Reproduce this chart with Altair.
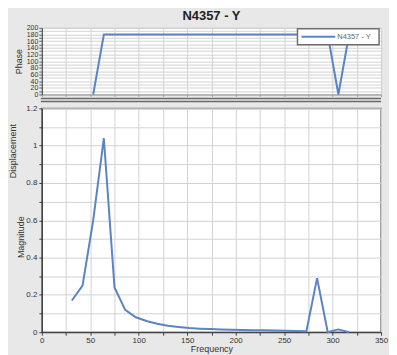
import altair as alt
import pandas as pd

# ---- data ----
FREQ = [31, 42, 53, 64, 75, 86, 97, 108, 119, 130, 141, 152, 163, 174, 185,
        196, 207, 218, 229, 240, 251, 262, 273, 284, 295, 306, 317]
MAG = [0.17, 0.25, 0.60, 1.04, 0.24, 0.12, 0.08, 0.06, 0.045, 0.035, 0.028,
       0.022, 0.019, 0.017, 0.015, 0.013, 0.012, 0.011, 0.010, 0.009, 0.008,
       0.007, 0.005, 0.29, 0.0, 0.015, 0.0]
PHASE = [None, None, 0, 180, 180, 180, 180, 180, 180, 180, 180, 180, 180, 180,
         180, 180, 180, 180, 180, 180, 180, 180, 180, 180, 180, 0, 180]
SERIES = ["N4357 - Y"]
X_TICKS = list(range(0, 351, 25))
PHASE_TICKS = list(range(0, 201, 10))
MAG_TICKS = [round(i * 0.1, 1) for i in range(13)]

W = 341
H_TOP = 67
H_BOT = 225
FONT = "Liberation Sans"
BLUE = "#5b84c4"

df = pd.DataFrame({"Frequency": FREQ, "Magnitude": MAG, "Phase": PHASE})
lab = pd.DataFrame({"label": SERIES})

xscale = alt.Scale(domain=[0, 350], nice=False, zero=False)

# ---------- top panel: phase ----------
phase_line = alt.Chart(df).mark_line(color=BLUE, strokeWidth=2).encode(
    x=alt.X("Frequency:Q", scale=xscale,
            axis=alt.Axis(values=X_TICKS, labels=False, title=None, grid=True,
                          tickSize=2, domainColor="#999", tickColor="#999")),
    y=alt.Y("Phase:Q", scale=alt.Scale(domain=[0, 200], nice=False),
            axis=alt.Axis(values=PHASE_TICKS,
                          labelExpr="datum.value % 20 == 0 ? datum.label : ''",
                          title="Phase", labelFontSize=7, labelOverlap=False,
                          tickSize=3, labelPadding=1, titleFontSize=9,
                          titlePadding=3, domainColor="#444", tickColor="#666")),
)

box = alt.Chart(lab).mark_rect(fill="white", stroke="#707070", strokeWidth=1.5).encode(
    x=alt.value(257), x2=alt.value(339), y=alt.value(1), y2=alt.value(17))
sym = alt.Chart(lab).mark_rule(color=BLUE, strokeWidth=2).encode(
    x=alt.value(261), x2=alt.value(295), y=alt.value(9))
txt = alt.Chart(lab).mark_text(align="left", baseline="middle", fontSize=7.5,
                               color="#666", font=FONT).encode(
    x=alt.value(297), y=alt.value(9), text="label:N")
sep1 = alt.Chart(lab).mark_rule(color="#6a6a6a", strokeWidth=1.5).encode(
    x=alt.value(-1), x2=alt.value(W), y=alt.value(H_TOP + 4))
sep2 = alt.Chart(lab).mark_rule(color="#6a6a6a", strokeWidth=1.5).encode(
    x=alt.value(-1), x2=alt.value(W), y=alt.value(H_TOP + 7))

top = alt.layer(phase_line, box, sym, txt, sep1, sep2).properties(
    width=W, height=H_TOP,
    title=alt.TitleParams(SERIES[0], fontSize=13, font=FONT, fontWeight="bold",
                          anchor="middle", offset=1, color="#222"),
    view=alt.ViewBackground(stroke="#bdbdbd", strokeWidth=1, fill="white"),
)

# ---------- bottom panel: magnitude ----------
mag_line = alt.Chart(df).mark_line(color=BLUE, strokeWidth=2).encode(
    x=alt.X("Frequency:Q", scale=xscale,
            axis=alt.Axis(values=X_TICKS,
                          labelExpr="datum.value % 50 == 0 ? datum.label : ''",
                          title="Frequency", labelFontSize=8, titleFontSize=9,
                          tickSize=3, labelPadding=1, titlePadding=0,
                          labelFlush=False, domainColor="#222", tickColor="#444")),
    y=alt.Y("Magnitude:Q", scale=alt.Scale(domain=[0, 1.2], nice=False),
            axis=alt.Axis(values=MAG_TICKS, format="~g",
                          labelExpr="round(datum.value * 10) % 2 == 0 ? datum.label : ''",
                          title="Magnitude", titleX=-16, titleY=129,
                          labelFontSize=8, titleFontSize=9, tickSize=3,
                          labelPadding=2, domainColor="#222", tickColor="#444")),
)

disp = alt.Chart(lab).mark_text(text="Displacement", angle=270, fontSize=9,
                                font=FONT, color="#333", baseline="bottom",
                                align="center").encode(
    x=alt.value(-24), y=alt.value(43))

bottom = alt.layer(mag_line, disp).properties(
    width=W, height=H_BOT,
    view=alt.ViewBackground(stroke="#7a7a7a", strokeWidth=1.5, fill="white"),
)

chart = alt.vconcat(top, bottom, spacing=0).properties(
    background="#e8e8e8",
    padding={"left": 0, "top": 0, "right": 0, "bottom": 0},
).configure_axis(
    gridColor="#d2d2d2", gridWidth=1, labelFont=FONT, titleFont=FONT,
    labelColor="#333", titleColor="#333", titleFontWeight="normal",
).configure_concat(spacing=0)

chart.save("out.html", embed_options={"renderer": "svg", "actions": False})
